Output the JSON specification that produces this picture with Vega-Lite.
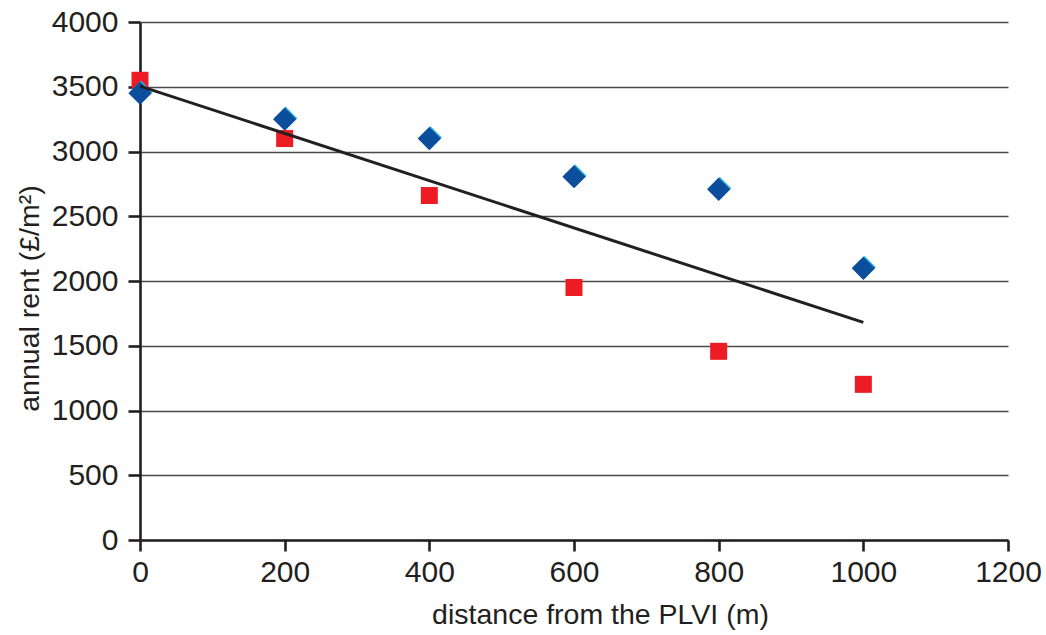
{
  "$schema": "https://vega.github.io/schema/vega-lite/v6.json",
  "width": 868,
  "height": 518,
  "autosize": "none",
  "padding": {"left": 140, "top": 22, "right": 38, "bottom": 95},
  "background": "white",
  "config": {
    "view": {"stroke": null},
    "font": "Liberation Sans",
    "axis": {
      "labelFont": "Liberation Sans",
      "titleFont": "Liberation Sans",
      "labelFontSize": 30,
      "titleFontSize": 28.5,
      "labelColor": "#231f20",
      "titleColor": "#231f20",
      "titleFontWeight": "normal",
      "domainColor": "#231f20",
      "domainWidth": 2.6,
      "tickColor": "#231f20",
      "tickWidth": 2.6
    }
  },
  "datasets": {
    "points": [
      {"distance": 0, "rentA": 3450, "rentB": 3550},
      {"distance": 200, "rentA": 3250, "rentB": 3100},
      {"distance": 400, "rentA": 3100, "rentB": 2660},
      {"distance": 600, "rentA": 2805, "rentB": 1950},
      {"distance": 800, "rentA": 2708, "rentB": 1457},
      {"distance": 1000, "rentA": 2098, "rentB": 1202}
    ],
    "trend": [
      {"distance": 0, "rent": 3505},
      {"distance": 1000, "rent": 1680}
    ]
  },
  "layer": [
    {
      "data": {"name": "points"},
      "mark": {"type": "point", "shape": "square", "filled": true, "size": 289, "color": "#ed1c24", "opacity": 1},
      "encoding": {
        "x": {
          "field": "distance", "type": "quantitative",
          "scale": {"domain": [0, 1200], "nice": false},
          "axis": {
            "title": "distance from the PLVI (m)",
            "values": [0, 200, 400, 600, 800, 1000, 1200],
            "format": "d",
            "grid": false,
            "tickSize": 11,
            "labelPadding": 6,
            "labelFlush": false,
            "titleX": 460,
            "titleY": 83,
            "titleBaseline": "alphabetic",
            "titleAnchor": null,
            "titleAlign": "center"
          }
        },
        "y": {
          "field": "rentB", "type": "quantitative",
          "scale": {"domain": [0, 4000], "nice": false},
          "axis": {
            "title": "annual rent (£/m²)",
            "values": [0, 500, 1000, 1500, 2000, 2500, 3000, 3500, 4000],
            "format": "d",
            "grid": true,
            "gridColor": "#4a4a4a",
            "gridWidth": 1.5,
            "tickSize": 12,
            "labelPadding": 10,
            "labelFlush": false,
            "titleX": -102,
            "titleY": 276,
            "titleAngle": 270,
            "titleBaseline": "alphabetic",
            "titleAlign": "center",
            "titleAnchor": null
          }
        }
      }
    },
    {
      "data": {"name": "points"},
      "mark": {"type": "point", "shape": "diamond", "filled": true, "size": 540, "color": "#29b6e8", "opacity": 1, "xOffset": 1, "yOffset": -1},
      "encoding": {
        "x": {"field": "distance", "type": "quantitative"},
        "y": {"field": "rentA", "type": "quantitative"}
      }
    },
    {
      "data": {"name": "points"},
      "mark": {"type": "point", "shape": "diamond", "filled": true, "size": 540, "color": "#0c4e9b", "opacity": 1},
      "encoding": {
        "x": {"field": "distance", "type": "quantitative"},
        "y": {"field": "rentA", "type": "quantitative"}
      }
    },
    {
      "data": {"name": "trend"},
      "mark": {"type": "line", "color": "#231f20", "strokeWidth": 3},
      "encoding": {
        "x": {"field": "distance", "type": "quantitative"},
        "y": {"field": "rent", "type": "quantitative"}
      }
    }
  ]
}
